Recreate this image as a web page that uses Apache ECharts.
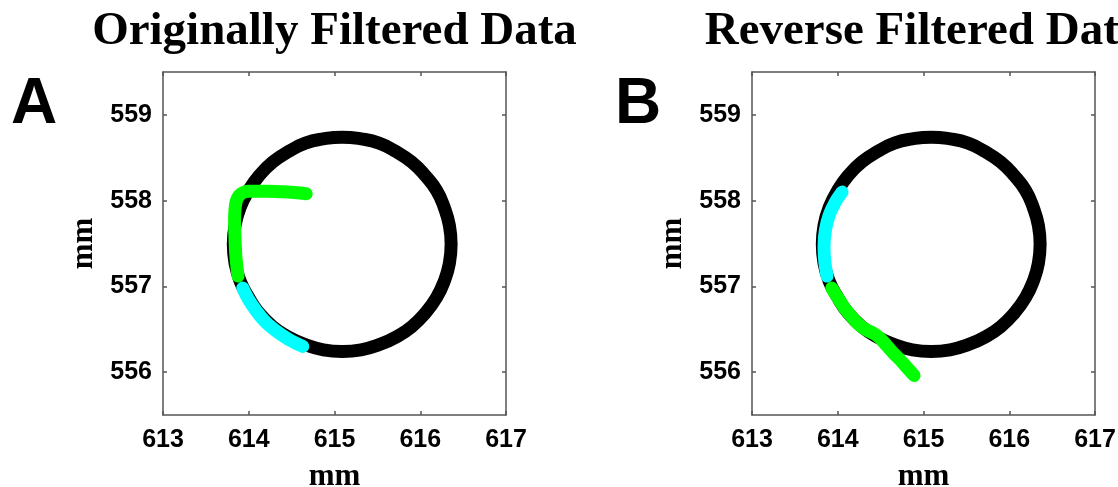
<!DOCTYPE html>
<html>
<head>
<meta charset="utf-8">
<script src="https://cdn.jsdelivr.net/npm/echarts@6/dist/echarts.min.js"></script>
<style>
  html, body { margin: 0; padding: 0; background: #ffffff; }
  #chart { width: 1118px; height: 487px; }
</style>
</head>
<body>
<div id="chart"></div>
<script>
// Panel headings and corner letters
const panelTitles = ['Originally Filtered Data', 'Reverse Filtered Data'];
const panelLetters = ['A', 'B'];
const axisUnit = 'mm';

// Axis extents and tick positions (mm)
const xExtent = [613, 617];
const yExtent = [555.5, 559.5];
const xTickValues = [613, 614, 615, 616, 617];
const yTickValues = [556, 557, 558, 559];

// Reference circle traced by the tool (x, y in mm), closed loop
const ringPath = [
  [616.36, 557.49], [616.34, 557.71], [616.28, 557.92], [616.19, 558.12],
  [616.06, 558.29], [615.90, 558.45], [615.72, 558.57], [615.52, 558.67],
  [615.31, 558.72], [615.09, 558.74], [614.87, 558.72], [614.66, 558.67],
  [614.46, 558.57], [614.28, 558.45], [614.12, 558.29], [614.00, 558.12],
  [613.90, 557.92], [613.84, 557.71], [613.82, 557.49], [613.84, 557.27],
  [613.90, 557.06], [614.00, 556.87], [614.12, 556.69], [614.28, 556.53],
  [614.46, 556.41], [614.66, 556.32], [614.87, 556.26], [615.09, 556.24],
  [615.31, 556.26], [615.52, 556.32], [615.72, 556.41], [615.90, 556.53],
  [616.06, 556.69], [616.19, 556.87], [616.28, 557.06], [616.34, 557.27],
  [616.36, 557.49]
];

// Panel A: originally filtered trajectory
const greenPathA = [
  [614.67, 558.08], [614.45, 558.10], [614.20, 558.11], [614.00, 558.11],
  [613.91, 558.08], [613.86, 558.01], [613.84, 557.90], [613.835, 557.75],
  [613.84, 557.55], [613.85, 557.35], [613.865, 557.20], [613.875, 557.12]
];
const cyanPathA = [
  [613.93, 556.98], [613.99, 556.86], [614.09, 556.71], [614.20, 556.58],
  [614.32, 556.48], [614.47, 556.38], [614.63, 556.30]
];

// Panel B: reverse filtered trajectory
const cyanPathB = [
  [614.05, 558.10], [613.97, 557.98], [613.90, 557.83], [613.855, 557.65],
  [613.84, 557.46], [613.85, 557.28], [613.875, 557.12]
];
const greenPathB = [
  [613.93, 556.98], [614.00, 556.87], [614.07, 556.76], [614.15, 556.66],
  [614.23, 556.57], [614.32, 556.50], [614.42, 556.45], [614.50, 556.39],
  [614.57, 556.31], [614.65, 556.22], [614.73, 556.14], [614.81, 556.05],
  [614.89, 555.96]
];

const panelLeft = [163, 752];
const panelTop = 72;
const panelSize = 343;

const frameStyle = { color: '#555555', width: 1.5 };
const tickFont = { fontFamily: 'Liberation Sans', fontWeight: 'bold', fontSize: 25, color: '#000000' };
const nameFont = { fontFamily: 'Liberation Serif', fontWeight: 'bold', fontSize: 31, color: '#000000' };

const grids = panelLeft.map(left => ({
  left: left, top: panelTop, width: panelSize, height: panelSize,
  containLabel: false, outerBoundsMode: 'none', show: false
}));

function makeXAxes(gi) {
  const common = {
    gridIndex: gi, type: 'value', min: xExtent[0], max: xExtent[1],
    axisLine: { show: true, onZero: false, lineStyle: frameStyle },
    axisTick: { show: true, inside: true, length: 4, customValues: xTickValues, lineStyle: frameStyle },
    splitLine: { show: false }
  };
  return [
    Object.assign({}, common, {
      position: 'bottom',
      axisLabel: Object.assign({ show: true, margin: 13, customValues: xTickValues }, tickFont),
      name: axisUnit, nameLocation: 'middle', nameGap: 46, nameTextStyle: nameFont
    }),
    Object.assign({}, common, { position: 'top', axisLabel: { show: false } })
  ];
}

function makeYAxes(gi) {
  const common = {
    gridIndex: gi, type: 'value', min: yExtent[0], max: yExtent[1],
    axisLine: { show: true, onZero: false, lineStyle: frameStyle },
    axisTick: { show: true, inside: true, length: 4, customValues: yTickValues, lineStyle: frameStyle },
    splitLine: { show: false }
  };
  return [
    Object.assign({}, common, {
      position: 'left',
      axisLabel: Object.assign({ show: true, margin: 11, customValues: yTickValues }, tickFont),
      name: axisUnit, nameLocation: 'middle', nameGap: 64, nameRotate: 90, nameTextStyle: nameFont
    }),
    Object.assign({}, common, { position: 'right', axisLabel: { show: false } })
  ];
}

function pathSeries(data, color, axisIdx, smooth) {
  return {
    type: 'line', data: data, xAxisIndex: axisIdx, yAxisIndex: axisIdx,
    symbol: 'none', smooth: smooth, silent: true, animation: false,
    lineStyle: { color: color, width: 13, cap: 'round', join: 'round' }
  };
}

const GREEN = '#00ff00';
const CYAN = '#00ffff';
const BLACK = '#000000';

const graphics = [];
panelTitles.forEach((t, i) => {
  graphics.push({
    type: 'text', x: panelLeft[i] + panelSize / 2, y: 32,
    style: {
      text: t, fill: '#000000', align: 'center', verticalAlign: 'middle',
      font: 'bold 47px "Liberation Serif"'
    }
  });
});
graphics.push({
  type: 'text', x: 11, y: 105,
  style: { text: panelLetters[0], fill: '#000000', align: 'left', verticalAlign: 'middle', font: 'bold 64px "Liberation Sans"' }
});
graphics.push({
  type: 'text', x: 615, y: 105,
  style: { text: panelLetters[1], fill: '#000000', align: 'left', verticalAlign: 'middle', font: 'bold 64px "Liberation Sans"' }
});

const option = {
  backgroundColor: '#ffffff',
  animation: false,
  grid: grids,
  xAxis: makeXAxes(0).concat(makeXAxes(1)),
  yAxis: makeYAxes(0).concat(makeYAxes(1)),
  series: [
    pathSeries(ringPath, BLACK, 0, 0.5),
    pathSeries(greenPathA, GREEN, 0, 0.3),
    pathSeries(cyanPathA, CYAN, 0, 0.3),
    pathSeries(ringPath, BLACK, 2, 0.5),
    pathSeries(cyanPathB, CYAN, 2, 0.3),
    pathSeries(greenPathB, GREEN, 2, 0.3)
  ],
  graphic: graphics
};

const chart = echarts.init(document.getElementById('chart'), null, { renderer: 'canvas' });
chart.setOption(option);
</script>
</body>
</html>
